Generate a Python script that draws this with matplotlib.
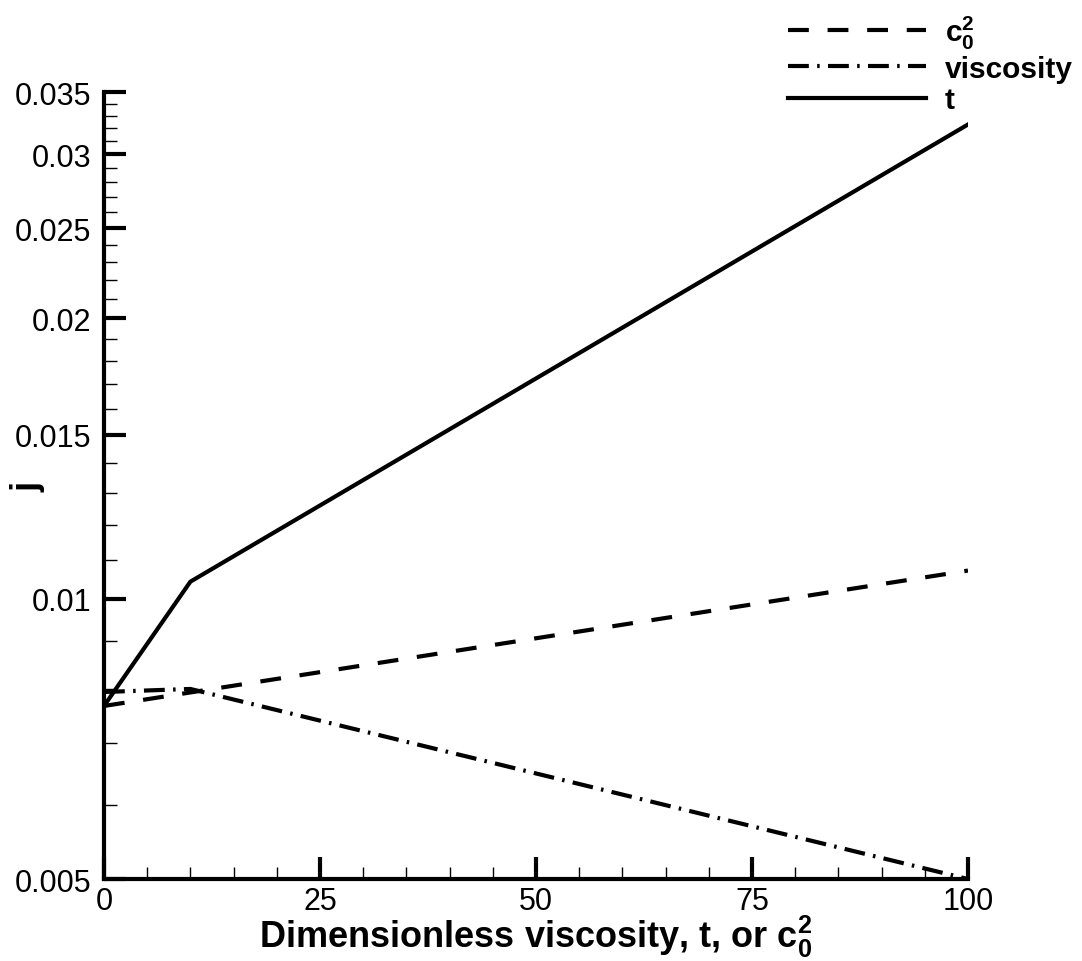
import matplotlib.pyplot as plt
from matplotlib.ticker import FixedLocator, FuncFormatter, MultipleLocator

plt.rcParams['font.family'] = ['Liberation Sans', 'DejaVu Sans']
plt.rcParams['mathtext.fontset'] = 'custom'
plt.rcParams['mathtext.bf'] = 'Liberation Sans:bold'
plt.rcParams['mathtext.rm'] = 'Liberation Sans'

# values
x_t = [0, 10, 100]
j_t = [0.00767, 0.01043, 0.0323]

x_c = [0, 100]
j_c = [0.00767, 0.01072]

x_v = [0, 10, 100]
j_v = [0.00794, 0.00800, 0.00500]

y_major = [0.005, 0.01, 0.015, 0.02, 0.025, 0.03, 0.035]

fig = plt.figure(figsize=(10.82, 9.62), dpi=100)
ax = fig.add_axes([0.0961, 0.0852, 0.7985, 0.8181])

lw = 3
ax.plot(x_c, j_c, color='k', lw=lw, dashes=(5, 4.5), label=r'$\mathbf{c_0^2}$')
ax.plot(x_v, j_v, color='k', lw=lw, dashes=(5, 2, 0.6, 2), label='viscosity')
ax.plot(x_t, j_t, color='k', lw=lw, label='t')

ax.set_yscale('log')
ax.set_ylim(0.005, 0.035)
ax.set_xlim(0, 100)

ax.yaxis.set_major_locator(FixedLocator(y_major))
minor = [v / 1000 for v in range(5, 36) if v % 5 != 0]
ax.yaxis.set_minor_locator(FixedLocator(minor))
ax.yaxis.set_major_formatter(FuncFormatter(lambda v, p: '%g' % v))
ax.yaxis.set_minor_formatter(FuncFormatter(lambda v, p: ''))

ax.xaxis.set_major_locator(MultipleLocator(25))
ax.xaxis.set_minor_locator(MultipleLocator(5))

for s in ['top', 'right']:
    ax.spines[s].set_visible(False)
for s in ['left', 'bottom']:
    ax.spines[s].set_linewidth(3)

ax.tick_params(which='major', direction='in', length=16, width=3, labelsize=22)
ax.tick_params(which='minor', direction='in', length=9, width=1)
ax.tick_params(axis='y', which='major', pad=9)
ax.tick_params(axis='x', which='major', pad=5)

ax.set_xlabel(r'Dimensionless viscosity, t, or $\mathbf{c_0^2}$',
              fontsize=26, fontweight='bold', labelpad=-2)
ax.set_ylabel('j', fontsize=26, fontweight='bold')
ax.yaxis.set_label_coords(-0.068, 0.5)

leg = ax.legend(loc='upper right', bbox_to_anchor=(1.0, 0.994),
                bbox_transform=fig.transFigure, frameon=False,
                prop={'weight': 'bold', 'size': 21.5}, handlelength=4.6,
                handletextpad=0.65, labelspacing=0.12, borderaxespad=0.0,
                borderpad=0.3)

fig.savefig('out.png', dpi=100)
